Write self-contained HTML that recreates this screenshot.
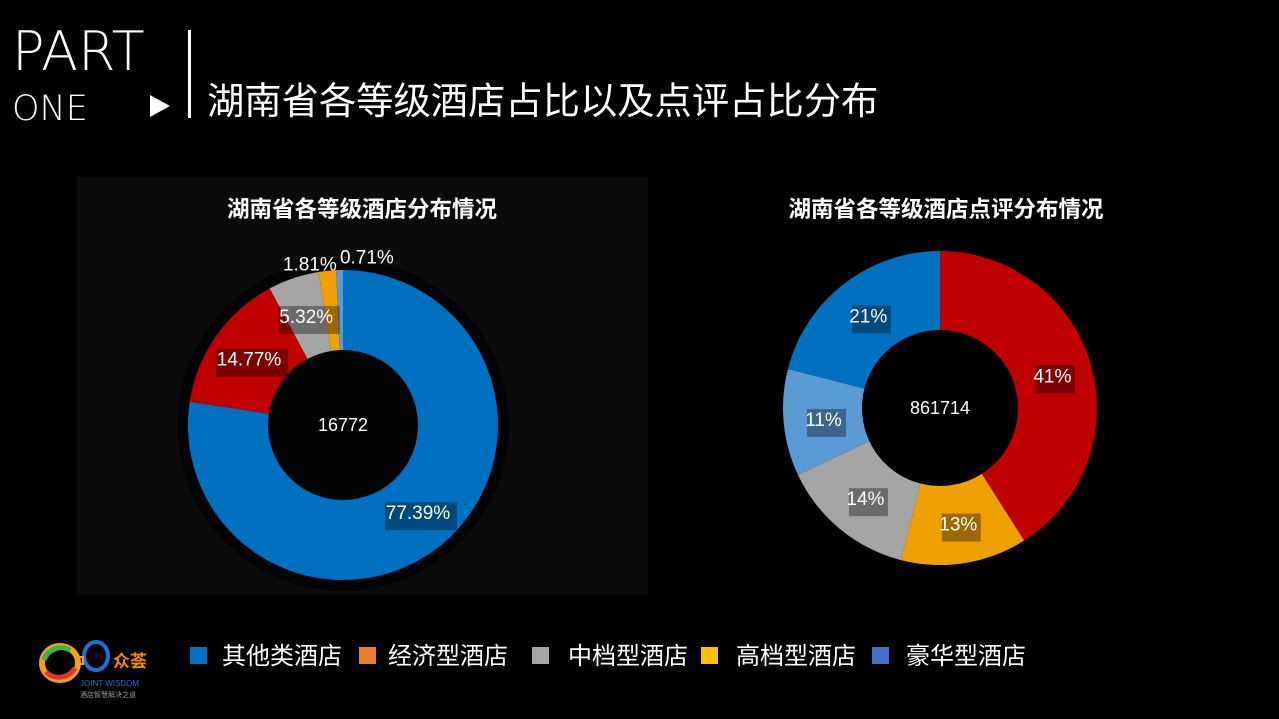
<!DOCTYPE html>
<html><head><meta charset="utf-8"><style>
html,body{margin:0;padding:0;background:#000;width:1279px;height:719px;overflow:hidden}
svg{display:block}
text{font-family:"Liberation Sans","Noto Sans CJK SC",sans-serif}
</style></head><body>
<svg id="s" width="1279" height="719" viewBox="0 0 1279 719">
<text x="12" y="70" font-size="54" fill="#fff" style="font-family:'DejaVu Sans','Liberation Sans',sans-serif;font-weight:200">PART</text>
<text x="12" y="120" font-size="35" fill="#fff" style="font-family:'DejaVu Sans','Liberation Sans',sans-serif;font-weight:200">ONE</text>
<polygon points="150,95 170,106 150,117" fill="#fff"/>
<rect x="188" y="30" width="3" height="88" fill="#fff"/>
<text x="207" y="114" font-size="37.3" fill="#fff">湖南省各等级酒店占比以及点评占比分布</text>
<rect x="77" y="177" width="571" height="418" fill="#0b0b0b"/>
<text x="362" y="217" font-size="22.5" font-weight="bold" fill="#fff" text-anchor="middle">湖南省各等级酒店分布情况</text>
<text x="946" y="217" font-size="22.5" font-weight="bold" fill="#fff" text-anchor="middle">湖南省各等级酒店点评分布情况</text>
<circle cx="343" cy="425" r="166" fill="#000" opacity="0.7"/>
<g id="left"></g>
<g id="right"></g>
<g>
<rect x="190" y="647" width="17" height="17" fill="#0070c0"/>
<text x="222" y="664" font-size="24" fill="#fff">其他类酒店</text>
<rect x="359" y="647" width="17" height="17" fill="#ed7d31"/>
<text x="388" y="664" font-size="24" fill="#fff">经济型酒店</text>
<rect x="532" y="647" width="17" height="17" fill="#a5a5a5"/>
<text x="568" y="664" font-size="24" fill="#fff">中档型酒店</text>
<rect x="701" y="647" width="17" height="17" fill="#ffc000"/>
<text x="736" y="664" font-size="24" fill="#fff">高档型酒店</text>
<rect x="872" y="647" width="17" height="17" fill="#4472c4"/>
<text x="906" y="664" font-size="24" fill="#fff">豪华型酒店</text>
</g>
<g>
<ellipse cx="60" cy="663" rx="18" ry="17" fill="none" stroke="#f0a020" stroke-width="6"/>
<path d="M44 660 A18 17 0 0 1 70 650" fill="none" stroke="#3cb34a" stroke-width="5"/>
<path d="M46 672 A18 17 0 0 0 75 668" fill="none" stroke="#e8332a" stroke-width="5"/>
<ellipse cx="96" cy="656" rx="12" ry="14" fill="none" stroke="#1f6fd0" stroke-width="4"/>
<rect x="76" y="657" width="7" height="7" fill="none" stroke="#f0a020" stroke-width="2"/>
<text x="113" y="667" font-size="17" font-weight="bold" fill="#f08a00">众荟</text>
<text x="80" y="686" font-size="8" fill="#1f6fd0">JOINT WISDOM</text>
<text x="80" y="697" font-size="7" fill="#999">酒店智慧解决之道</text>
</g>
</svg>
<script>
const leftCats=["其他类酒店","经济型酒店","中档型酒店","高档型酒店","豪华型酒店"];
const leftVals=[77.39,14.77,5.32,1.81,0.71];
const leftLabels=["77.39%","14.77%","5.32%","1.81%","0.71%"];
const leftTotal="16772";
const rightCats=["经济型酒店","高档型酒店","中档型酒店","豪华型酒店","其他类酒店"];
const rightVals=[41,13,14,11,21];
const rightLabels=["41%","13%","14%","11%","21%"];
const rightTotal="861714";
const NS="http://www.w3.org/2000/svg";
function mk(t,a){const e=document.createElementNS(NS,t);for(const k in a)e.setAttribute(k,a[k]);return e;}
function pt(cx,cy,r,f){const a=f*2*Math.PI;return [cx+r*Math.sin(a),cy-r*Math.cos(a)];}
function donut(g,cx,cy,ro,ri,vals,labels,colors,total,nudges,radii,prefix){
  const sum=vals.reduce((a,b)=>a+b,0);let acc=0;const lab=[];
  vals.forEach((v,i)=>{
    const f0=acc/sum,f1=(acc+v)/sum;acc+=v;
    const [x0,y0]=pt(cx,cy,ro,f0),[x1,y1]=pt(cx,cy,ro,f1),[x2,y2]=pt(cx,cy,ri,f1),[x3,y3]=pt(cx,cy,ri,f0);
    const lg=(f1-f0)>0.5?1:0;
    const p=mk("path",{d:`M${x0} ${y0}A${ro} ${ro} 0 ${lg} 1 ${x1} ${y1}L${x2} ${y2}A${ri} ${ri} 0 ${lg} 0 ${x3} ${y3}Z`,fill:colors[i]});
    
    
    g.appendChild(p);
    lab.push((f0+f1)/2+nudges[i]);
  });
  lab.forEach((fm,i)=>{
    const [lx,ly]=pt(cx,cy,radii[i],fm);
    const tw=labels[i].length*11+6;
    if(radii[i]<ro){
      const bx=mk("rect",{x:lx-tw/2+3,y:ly-13+3,width:tw,height:28,fill:"#000",opacity:"0.35"});
      
      
      g.appendChild(bx);
    }
    const t=mk("text",{x:lx,y:ly+7,"font-size":"19",fill:"#fff","text-anchor":"middle"});
    t.textContent=labels[i];
    
    
    g.appendChild(t);
  });
  const c=mk("text",{x:cx,y:cy+6,"font-size":"18",fill:"#fff","text-anchor":"middle"});
  c.textContent=total;
  
  
  g.appendChild(c);
}
donut(document.getElementById("left"),343,425,155,75,leftVals,leftLabels,
 ["#0070c0","#c00000","#a5a5a5","#f0a000","#5b9bd5"],leftTotal,[0,0,0,-0.016,0.026],[115,115,115,165,170],"left");
donut(document.getElementById("right"),940,408,157,78,rightVals,rightLabels,
 ["#c00000","#f0a000","#a5a5a5","#5b9bd5","#0070c0"],rightTotal,[0,0,0,0,0],[117,117,117,117,117],"right");
</script>
</body></html>
